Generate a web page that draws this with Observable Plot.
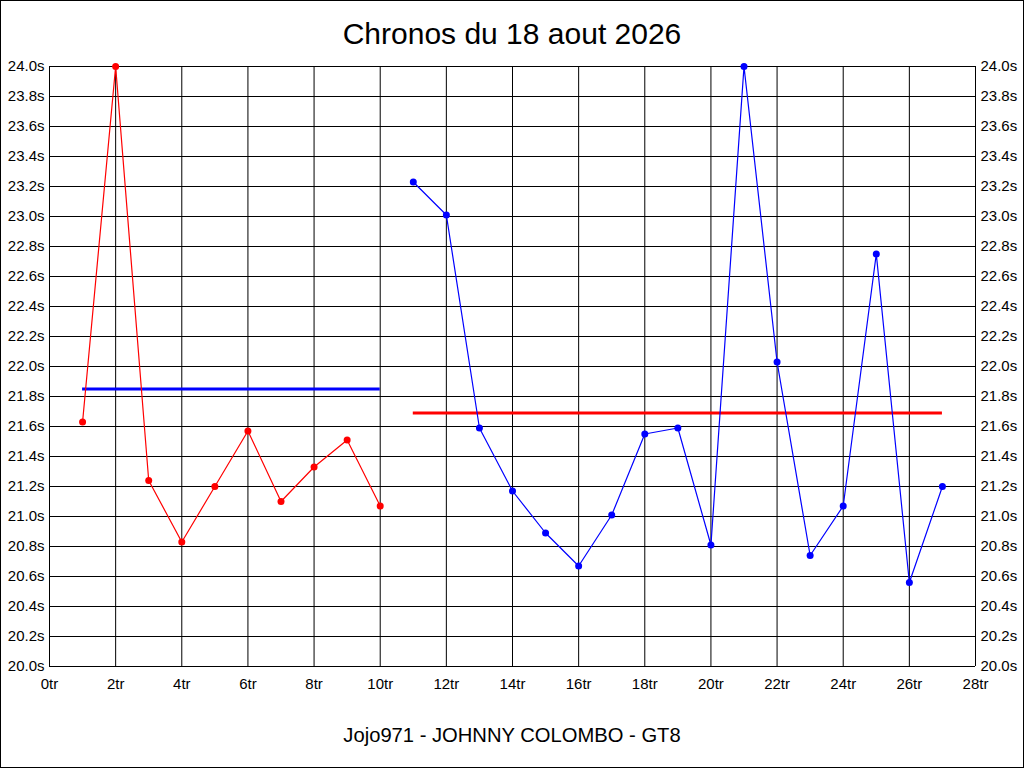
<!DOCTYPE html>
<html>
<head>
<meta charset="utf-8">
<script src="https://cdn.jsdelivr.net/npm/d3@7"></script>
<script src="https://cdn.jsdelivr.net/npm/@observablehq/plot@0.6"></script>
<style>
  html, body { margin: 0; padding: 0; background: #fff; }
  #wrap { position: relative; width: 1024px; height: 768px; overflow: hidden; font-family: "Liberation Sans", Arial, sans-serif; }
  #frame { position: absolute; left: 0; top: 0; width: 1024px; height: 768px; box-sizing: border-box; border: 1px solid #000; pointer-events: none; }
  #title { height: 50px; text-align: center; font-size: 30px; position: relative; }
  #title span { position: absolute; left: 0; right: 0; top: 17px; line-height: 34px; }
  #chart { height: 646px; }
  #footer { height: 72px; text-align: center; font-size: 20.2px; position: relative; }
  #footer span { position: absolute; left: 0; right: 0; top: 27px; line-height: 24px; }
  svg { display: block; }
</style>
</head>
<body>
<div id="wrap">
  <div id="title"><span>Chronos du 18 aout 2026</span></div>
  <div id="chart"></div>
  <div id="footer"><span>Jojo971 - JOHNNY COLOMBO - GT8</span></div>
  <div id="frame"></div>
</div>
<script>
// Session 1 (red) laps and times (s)
const lapsA = [1, 2, 3, 4, 5, 6, 7, 8, 9, 10];
const timesA = [21.63, 24.0, 21.24, 20.83, 21.2, 21.57, 21.1, 21.33, 21.51, 21.07];
// Session 2 (blue) laps and times (s)
const lapsB = [11, 12, 13, 14, 15, 16, 17, 18, 19, 20, 21, 22, 23, 24, 25, 26, 27];
const timesB = [23.23, 23.01, 21.59, 21.17, 20.89, 20.67, 21.01, 21.55, 21.59, 20.81, 24.0, 22.03, 20.74, 21.07, 22.75, 20.56, 21.2];
// Horizontal reference lines: [startLap, endLap, value]
const avgBlue = [1, 10, 21.85];
const avgRed = [11, 27, 21.69];
// Axis ticks
const xTicks = d3.range(0, 29, 2);
const yTicks = d3.range(0, 21).map(i => +(20 + i * 0.2).toFixed(1));

const A = lapsA.map((l, i) => ({lap: l, t: timesA[i]}));
const B = lapsB.map((l, i) => ({lap: l, t: timesB[i]}));
const refs = [
  {x1: avgBlue[0], x2: avgBlue[1], y: avgBlue[2], c: "#0000ff"},
  {x1: avgRed[0], x2: avgRed[1], y: avgRed[2], c: "#ff0000"}
];

const fmtY = d => d.toFixed(1) + "s";
const fmtX = d => d + "tr";

const chart = Plot.plot({
  width: 1024,
  height: 646,
  marginLeft: 49,
  marginRight: 49,
  marginTop: 16,
  marginBottom: 30,
  style: {fontFamily: "'Liberation Sans', Arial, sans-serif", fontSize: "15px", color: "#000", background: "#fff"},
  x: {domain: [0, 28], ticks: xTicks},
  y: {domain: [20, 24], ticks: yTicks},
  marks: [
    Plot.ruleX(xTicks, {stroke: "#000", strokeWidth: 1}),
    Plot.ruleY(yTicks, {stroke: "#000", strokeWidth: 1}),
    Plot.axisX({ticks: xTicks, tickFormat: fmtX, tickSize: 0, tickPadding: 12, label: null, fontSize: 15}),
    Plot.axisY({anchor: "left", ticks: yTicks, tickFormat: fmtY, tickSize: 0, tickPadding: 5, label: null, fontSize: 15}),
    Plot.axisY({anchor: "right", ticks: yTicks, tickFormat: fmtY, tickSize: 0, tickPadding: 5, label: null, fontSize: 15}),
    Plot.ruleY(refs, {x1: "x1", x2: "x2", y: "y", stroke: "c", strokeWidth: 3}),
    Plot.line(A, {x: "lap", y: "t", stroke: "#ff0000", strokeWidth: 1.2}),
    Plot.dot(A, {x: "lap", y: "t", fill: "#ff0000", r: 3.5}),
    Plot.line(B, {x: "lap", y: "t", stroke: "#0000ff", strokeWidth: 1.2}),
    Plot.dot(B, {x: "lap", y: "t", fill: "#0000ff", r: 3.5})
  ]
});
document.getElementById("chart").appendChild(chart);
</script>
</body>
</html>
